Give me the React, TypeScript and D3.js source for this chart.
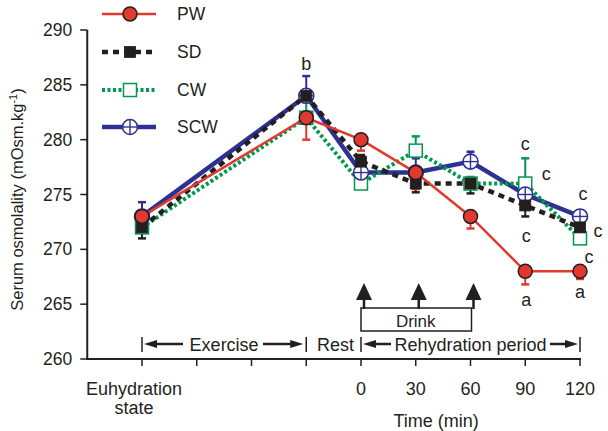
import React from "react";
import * as d3 from "d3";

const tickLabels = ["Euhydration", "", "", "", "0", "30", "60", "90", "120"];
const pointIdx = [1, 4, 5, 6, 7, 8, 9];
const PW = [273, 282, 280, 277, 273, 268, 268];
const SD = [272, 284, 278, 276, 276, 274, 272];
const CW = [272, 282, 276, 279, 276, 276, 271];
const SCW = [273, 284, 277, 277, 278, 275, 273];
// signed error bars: positive = upward, negative = downward
const PW_err = [0, -2.0, -1.0, -1.5, -1.1, -1.2, -0.7];
const SD_err = [-1.0, 0, 0.6, -0.8, -0.9, -1.0, 0];
const CW_err = [0, 1.4, 0, 1.3, 0.6, 2.3, 0];
const SCW_err = [1.3, 1.8, 0, 1.3, 0.9, 0, 0];
const yTicks = [260, 265, 270, 275, 280, 285, 290];
const sigLabels = [
  { idx: 4, dx: 0, v: 286.35, t: "b" },
  { idx: 8, dx: 0, v: 279.06, t: "c" },
  { idx: 8, dx: 21, v: 276.32, t: "c" },
  { idx: 8, dx: 1, v: 270.67, t: "c" },
  { idx: 8, dx: 1, v: 264.83, t: "a" },
  { idx: 9, dx: 3, v: 274.5, t: "c" },
  { idx: 9, dx: 18, v: 271.12, t: "c" },
  { idx: 9, dx: 9, v: 268.75, t: "c" },
  { idx: 9, dx: 0, v: 265.56, t: "a" },
];

const RED = "#e03a2e";
const BLK = "#231f20";
const GRN = "#00994c";
const BLU = "#2e3192";
const FONT = "Liberation Sans, Arial, sans-serif";

const series = [
  { name: "PW", vals: PW, err: PW_err, color: RED, width: 2.5, dash: "none", marker: "circleFilled" },
  { name: "SD", vals: SD, err: SD_err, color: BLK, width: 4.5, dash: "6,5", marker: "squareFilled" },
  { name: "CW", vals: CW, err: CW_err, color: GRN, width: 4, dash: "3,2.5", marker: "squareOpen" },
  { name: "SCW", vals: SCW, err: SCW_err, color: BLU, width: 4.5, dash: "none", marker: "circleCross" },
];

const x = d3.scaleLinear().domain([0, 9]).range([87.25, 580]);
const y = d3.scaleLinear().domain([260, 290]).range([359, 30]);

function Marker({ type, cx, cy, color }: { type: string; cx: number; cy: number; color: string }) {
  if (type === "circleFilled")
    return <circle cx={cx} cy={cy} r={7} fill={color} stroke={BLK} strokeWidth={1.5} />;
  if (type === "squareFilled")
    return <rect x={cx - 5.5} y={cy - 5.5} width={11} height={11} fill={color} stroke={BLK} strokeWidth={0.8} />;
  if (type === "squareOpen")
    return <rect x={cx - 6.5} y={cy - 6.5} width={13} height={13} fill="#fff" stroke={color} strokeWidth={1.5} />;
  return (
    <g>
      <circle cx={cx} cy={cy} r={7.5} fill="#fff" stroke={color} strokeWidth={1.6} />
      <line x1={cx - 7.5} x2={cx + 7.5} y1={cy} y2={cy} stroke={color} strokeWidth={1.4} />
      <line x1={cx} x2={cx} y1={cy - 7.5} y2={cy + 7.5} stroke={color} strokeWidth={1.4} />
    </g>
  );
}

function ArrowHead({ tipX, tipY, dir }: { tipX: number; tipY: number; dir: "left" | "right" | "up" }) {
  if (dir === "left")
    return <path d={`M${tipX},${tipY} L${tipX + 13},${tipY - 4} L${tipX + 13},${tipY + 4} Z`} fill={BLK} />;
  if (dir === "right")
    return <path d={`M${tipX},${tipY} L${tipX - 13},${tipY - 4} L${tipX - 13},${tipY + 4} Z`} fill={BLK} />;
  return <path d={`M${tipX},${tipY} L${tipX - 8},${tipY + 17} L${tipX + 8},${tipY + 17} Z`} fill={BLK} />;
}

export default function App() {
  const lineGen = d3
    .line<number>()
    .x((_, i) => x(pointIdx[i]))
    .y((d) => y(d));
  const lineOrder = [3, 2, 1, 0];
  const markerOrder = [2, 3, 1, 0];
  const brY = 344;
  const legendY = [14, 52, 90, 127];

  return (
    <svg
      width={608}
      height={431}
      style={{ position: "absolute", left: 0, top: 0, background: "#fff" }}
      fontFamily={FONT}
    >
      <rect width={608} height={431} fill="#fff" />
      {/* y axis */}
      <line x1={x(0)} x2={x(0)} y1={y(290)} y2={y(260)} stroke={BLK} strokeWidth={2} />
      {yTicks.map((t) => (
        <g key={t}>
          <line x1={x(0) - 7} x2={x(0)} y1={y(t)} y2={y(t)} stroke={BLK} strokeWidth={1.5} />
          <text x={x(0) - 15} y={y(t)} dy="0.35em" textAnchor="end" fontSize={17.5} fill={BLK}>
            {t}
          </text>
        </g>
      ))}
      <text
        transform={`translate(23,${(y(290) + y(260)) / 2 + 5}) rotate(-90)`}
        textAnchor="middle"
        fontSize={16.5}
        fill={BLK}
      >
        Serum osmolality (mOsm.kg
        <tspan dy={-6} fontSize={11}>-1</tspan>
        <tspan dy={6}>)</tspan>
      </text>
      {/* x axis */}
      <line x1={x(0) - 1} x2={x(9) + 1} y1={y(260)} y2={y(260)} stroke={BLK} strokeWidth={2} />
      {tickLabels.map((lab, i) => (
        <g key={i}>
          <line x1={x(i + 1)} x2={x(i + 1)} y1={y(260)} y2={y(260) + 7} stroke={BLK} strokeWidth={1.5} />
          {i === 0 ? (
            <g>
              <text x={x(1) - 8} y={395} textAnchor="middle" fontSize={18} fill={BLK}>
                {lab}
              </text>
              <text x={x(1) - 8} y={414} textAnchor="middle" fontSize={18} fill={BLK}>
                state
              </text>
            </g>
          ) : (
            <text x={x(i + 1)} y={395} textAnchor="middle" fontSize={18} fill={BLK}>
              {lab}
            </text>
          )}
        </g>
      ))}
      <text x={(x(6) + x(7)) / 2 - 7} y={427} textAnchor="middle" fontSize={18} fill={BLK}>
        Time (min)
      </text>

      {/* period brackets */}
      {[1, 4, 5, 9].map((i) => (
        <line key={i} x1={x(i)} x2={x(i)} y1={brY - 7} y2={brY + 8} stroke={BLK} strokeWidth={1.5} />
      ))}
      <line x1={x(1) + 14} x2={183} y1={brY} y2={brY} stroke={BLK} strokeWidth={2.5} />
      <ArrowHead tipX={x(1) + 2} tipY={brY} dir="left" />
      <text x={(x(1) + x(4)) / 2} y={brY + 7} textAnchor="middle" fontSize={18} fill={BLK}>
        Exercise
      </text>
      <line x1={263} x2={x(4) - 14} y1={brY} y2={brY} stroke={BLK} strokeWidth={2.5} />
      <ArrowHead tipX={x(4) - 3} tipY={brY} dir="right" />
      <text x={(x(4) + x(5)) / 2 + 2} y={brY + 7} textAnchor="middle" fontSize={18} fill={BLK}>
        Rest
      </text>
      <line x1={x(5) + 14} x2={391} y1={brY} y2={brY} stroke={BLK} strokeWidth={2.5} />
      <ArrowHead tipX={x(5) + 2} tipY={brY} dir="left" />
      <text x={(x(5) + x(9)) / 2} y={brY + 7} textAnchor="middle" fontSize={18} fill={BLK}>
        Rehydration period
      </text>
      <line x1={550} x2={x(9) - 14} y1={brY} y2={brY} stroke={BLK} strokeWidth={2.5} />
      <ArrowHead tipX={x(9) - 2} tipY={brY} dir="right" />

      {/* drink box */}
      <rect x={x(5)} y={308} width={x(7) - x(5) + 1} height={23} fill="#fff" stroke={BLK} strokeWidth={1.5} />
      <text x={x(6)} y={327} textAnchor="middle" fontSize={17} fill={BLK}>
        Drink
      </text>
      {[5, 6, 7].map((i) => (
        <g key={i}>
          <line x1={x(i) + 3} x2={x(i) + 3} y1={298} y2={309} stroke={BLK} strokeWidth={2.5} />
          <ArrowHead tipX={x(i) + 3} tipY={283} dir="up" />
        </g>
      ))}

      {/* lines */}
      {lineOrder.map((si) => {
        const s = series[si];
        return (
          <path
            key={s.name}
            d={lineGen(s.vals) || ""}
            fill="none"
            stroke={s.color}
            strokeWidth={s.width}
            strokeDasharray={s.dash}
          />
        );
      })}
      {/* error bars */}
      {markerOrder.map((si) => {
        const s = series[si];
        return (
          <g key={s.name}>
            {s.err.map((e, i) =>
              e === 0 ? null : (
                <g key={i}>
                  <line
                    x1={x(pointIdx[i])}
                    x2={x(pointIdx[i])}
                    y1={y(s.vals[i])}
                    y2={y(s.vals[i] + e)}
                    stroke={s.color}
                    strokeWidth={2}
                  />
                  <line
                    x1={x(pointIdx[i]) - 4}
                    x2={x(pointIdx[i]) + 4}
                    y1={y(s.vals[i] + e)}
                    y2={y(s.vals[i] + e)}
                    stroke={s.color}
                    strokeWidth={2.5}
                  />
                </g>
              )
            )}
          </g>
        );
      })}
      {/* markers */}
      {markerOrder.map((si) => {
        const s = series[si];
        return (
          <g key={s.name}>
            {s.vals.map((v, i) => (
              <Marker key={i} type={s.marker} cx={x(pointIdx[i])} cy={y(v)} color={s.color} />
            ))}
          </g>
        );
      })}
      {/* significance letters */}
      {sigLabels.map((l, k) => (
        <text key={k} x={x(l.idx) + l.dx} y={y(l.v)} textAnchor="middle" fontSize={18} fill={BLK}>
          {l.t}
        </text>
      ))}

      {/* legend */}
      {series.map((s, i) => (
        <g key={s.name}>
          <line x1={102} x2={156} y1={legendY[i]} y2={legendY[i]} stroke={s.color} strokeWidth={s.width} strokeDasharray={s.dash} />
          <Marker type={s.marker} cx={130} cy={legendY[i]} color={s.color} />
          <text x={177} y={legendY[i]} dy="0.36em" fontSize={17.5} fill={BLK}>
            {s.name}
          </text>
        </g>
      ))}
    </svg>
  );
}
